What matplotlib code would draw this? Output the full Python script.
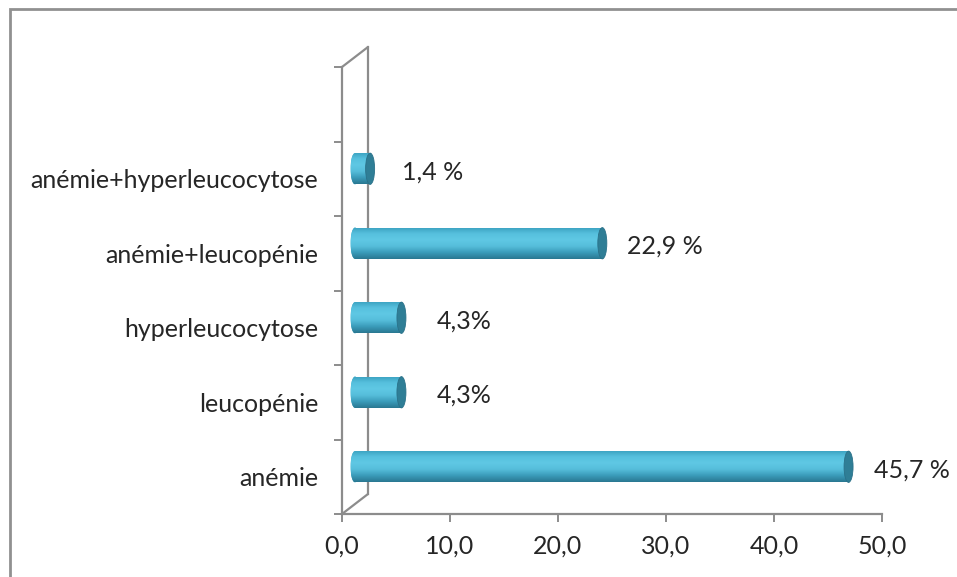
import numpy as np
import matplotlib
matplotlib.use("Agg")
import matplotlib.pyplot as plt
import matplotlib.transforms as mtransforms
from matplotlib.patches import Ellipse, Rectangle, ConnectionPatch
from matplotlib.ticker import FuncFormatter, FixedLocator
from matplotlib.colors import LinearSegmentedColormap

# Données
categories = ["anémie", "leucopénie", "hyperleucocytose",
              "anémie+leucopénie", "anémie+hyperleucocytose"]
values = [45.7, 4.3, 4.3, 22.9, 1.4]
value_labels = ["45,7 %", "4,3%", "4,3%", "22,9 %", "1,4 %"]
x_ticks = [0, 10, 20, 30, 40, 50]

plt.rcParams["font.family"] = ["Lato", "DejaVu Sans"]
text_color = "#262626"
line_color = "#8c8c8c"
fs = 18

fig = plt.figure(figsize=(9.57, 5.77), dpi=100)
ax = fig.add_axes([342 / 957, 63 / 577, 540 / 957, 447 / 577])
ax.set_xlim(0, 50)
ax.set_ylim(-0.5, 5.5)  # six cases, la derniere reste vide

# cadre exterieur
fig.patches.append(Rectangle((10 / 957, -0.1), 1.2, 1.1 - 9 / 577,
                             transform=fig.transFigure, fill=False,
                             edgecolor="#909090", lw=2))

# decalages pour l'effet 3D
wall_off = mtransforms.offset_copy(ax.transData, fig=fig, x=26, y=20, units="dots")
bar_off = mtransforms.offset_copy(ax.transData, fig=fig, x=13, y=10, units="dots")

# mur du fond
y0, y1 = ax.get_ylim()
ax.plot([0, 0], [y0, y1], color=line_color, lw=1.6, transform=wall_off,
        clip_on=False, zorder=1)
for yy in (y0, y1):
    con = ConnectionPatch(xyA=(0, yy), coordsA=ax.transData,
                          xyB=(0, yy), coordsB=wall_off,
                          color=line_color, lw=1.6, zorder=1)
    fig.add_artist(con)

# cylindres (degrade du haut vers le bas)
bar_h = 0.42
cap_w = 9 / 10.8  # largeur de l'ellipse en unites de x
body_cmap = LinearSegmentedColormap.from_list(
    "cyl", ["#3aa0bf", "#56c0de", "#5fc8e4", "#56bedb", "#3b9cba", "#2a7892"])
grad = np.linspace(0, 1, 64).reshape(-1, 1)

for i, v in enumerate(values):
    left = Ellipse((0, i), cap_w, bar_h, transform=bar_off,
                   facecolor="#4db8d6", edgecolor="none", zorder=3, clip_on=False)
    ax.add_patch(left)
    body = ax.barh(i, v, height=bar_h, color="#4db8d6", edgecolor="none",
                   transform=bar_off, zorder=3, clip_on=False)[0]
    im = ax.imshow(grad, cmap=body_cmap, aspect="auto", transform=bar_off,
                   origin="upper",
                   extent=(-cap_w / 2, v, i - bar_h / 2, i + bar_h / 2),
                   zorder=4, interpolation="bilinear")
    im.set_clip_path(body)
    left_im = ax.imshow(grad, cmap=body_cmap, aspect="auto", transform=bar_off,
                        origin="upper",
                        extent=(-cap_w / 2, 0.01, i - bar_h / 2, i + bar_h / 2),
                        zorder=4, interpolation="bilinear")
    left_im.set_clip_path(left)
    cap = Ellipse((v, i), cap_w, bar_h, transform=bar_off,
                  facecolor="#2f7e96", edgecolor="#2a7189", lw=0.6, zorder=5,
                  clip_on=False)
    ax.add_patch(cap)
    lab_tr = mtransforms.offset_copy(ax.transData, fig=fig, x=13 + 63, y=7,
                                     units="dots")
    ax.text(v, i, value_labels[i], transform=lab_tr, ha="center", va="center",
            fontsize=fs, color=text_color, zorder=6)

ax.set_xlim(0, 50)
ax.set_ylim(y0, y1)

# axes
for s in ("top", "right"):
    ax.spines[s].set_visible(False)
for s in ("left", "bottom"):
    ax.spines[s].set_color(line_color)
    ax.spines[s].set_linewidth(1.6)
    ax.spines[s].set_zorder(2)

ax.xaxis.set_major_locator(FixedLocator(x_ticks))
ax.xaxis.set_major_formatter(FuncFormatter(lambda x, p: f"{x:.1f}".replace(".", ",")))
ax.tick_params(axis="x", direction="out", length=6, width=1.4, color=line_color,
               labelsize=fs, labelcolor=text_color, pad=9)

ax.set_yticks(range(len(categories)))
ax.set_yticklabels(categories)
ax.set_yticks(np.arange(-0.5, 6.0, 1.0), minor=True)
ax.tick_params(axis="y", which="major", length=0, labelsize=fs,
               labelcolor=text_color, pad=17)
ax.tick_params(axis="y", which="minor", direction="out", length=6, width=1.4,
               color=line_color)
ax.patch.set_visible(False)

fig.savefig("out.png", dpi=100)
